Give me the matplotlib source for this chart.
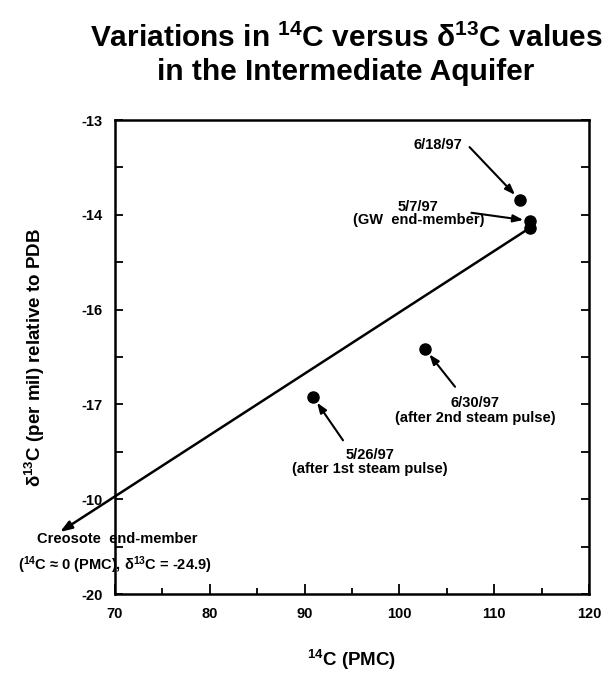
import numpy as np
import matplotlib
matplotlib.use("Agg")
import matplotlib.pyplot as plt
from matplotlib.ticker import FixedLocator, MultipleLocator

# ---------------- data ----------------
dates = ["6/18/97", "5/7/97", "5/7/97 (dup)", "6/30/97", "5/26/97"]
c14_pmc = [112.7, 113.8, 113.8, 102.7, 90.9]
d13c = [-14.18, -14.49, -14.59, -16.38, -17.09]

creosote_c14 = 0.0
creosote_d13c = -24.9

x_ticks = [70, 80, 90, 100, 110, 120]
y_tick_labels = ["-13", "-14", "-16", "-17", "-10", "-20"]

# ---------------- style ----------------
FONT = "Liberation Sans"
plt.rcParams["font.family"] = [FONT, "DejaVu Sans"]
plt.rcParams["font.weight"] = "bold"
plt.rcParams["mathtext.fontset"] = "custom"
plt.rcParams["mathtext.rm"] = "Liberation Sans:bold"
plt.rcParams["mathtext.it"] = "Liberation Sans:bold"
plt.rcParams["mathtext.bf"] = "Liberation Sans:bold"

W, H = 610, 675
fig = plt.figure(figsize=(W / 100, H / 100), dpi=100)
ax = fig.add_axes([115 / W, 1 - 594 / H, (589 - 115) / W, (594 - 120) / H])

ax.set_xlim(70, 120)
ax.set_ylim(-20, -13)

for s in ax.spines.values():
    s.set_linewidth(1.8)

ax.xaxis.set_major_locator(FixedLocator(x_ticks))
ax.xaxis.set_minor_locator(MultipleLocator(5))
yt = np.linspace(-13, -20, len(y_tick_labels))
ax.yaxis.set_major_locator(FixedLocator(yt))
ax.yaxis.set_minor_locator(FixedLocator((yt[:-1] + yt[1:]) / 2))
ax.set_yticklabels(y_tick_labels)
ax.set_xticklabels([str(v) for v in x_ticks])

ax.tick_params(axis="both", which="both", direction="in", width=1.3,
               labelsize=10.5, pad=9)
ax.tick_params(axis="y", which="both", right=True, length=6)
ax.tick_params(axis="x", which="major", length=7)
ax.tick_params(axis="x", which="minor", length=4)
for lab in ax.get_xticklabels() + ax.get_yticklabels():
    lab.set_fontweight("bold")

# mixing line from GW end-member toward creosote end-member (arrow)
gx, gy = c14_pmc[2], d13c[2]
arrow_end_x = 64.2
slope = (gy - creosote_d13c) / (gx - creosote_c14)
arrow_end_y = gy - slope * (gx - arrow_end_x)
ax.annotate("", xy=(arrow_end_x, arrow_end_y), xytext=(gx, gy),
            arrowprops=dict(arrowstyle="-|>,head_length=0.7,head_width=0.25",
                            color="black", lw=1.8, shrinkA=0, shrinkB=0),
            annotation_clip=False)

# points
ax.plot(c14_pmc, d13c, "o", color="black", markersize=8, zorder=5, clip_on=False)

txt_kw = dict(ha="center", va="center", fontsize=10.5, fontweight="bold")
arr_kw = dict(arrowstyle="-|>,head_length=0.6,head_width=0.22", color="black",
              lw=1.5, shrinkA=0, shrinkB=5)

# 6/18/97
ax.text(104.1, -13.37, "6/18/97", **txt_kw)
ax.annotate("", xy=(c14_pmc[0], d13c[0]), xytext=(107.4, -13.40), arrowprops=arr_kw)

# 5/7/97 GW end-member
ax.text(102.0, -14.38, "5/7/97\n(GW  end-member)", linespacing=0.95, **txt_kw)
ax.annotate("", xy=(c14_pmc[1], d13c[1]), xytext=(107.6, -14.37), arrowprops=arr_kw)

# 6/30/97
ax.text(107.97, -17.29, "6/30/97\n(after 2nd steam pulse)", linespacing=1.05, **txt_kw)
ax.annotate("", xy=(c14_pmc[3], d13c[3]), xytext=(105.87, -16.94), arrowprops=arr_kw)

# 5/26/97
ax.text(96.9, -18.05, "5/26/97\n(after 1st steam pulse)", linespacing=1.05, **txt_kw)
ax.annotate("", xy=(c14_pmc[4], d13c[4]), xytext=(94.05, -17.73), arrowprops=arr_kw)

# creosote label
ax.text(70.2, -19.19, "Creosote  end-member", clip_on=False, **txt_kw)
ax.text(70.0, -19.57, "($^{14}$C ≈ 0 (PMC), δ$^{13}$C = -24.9)", clip_on=False, **txt_kw)

# axis labels
fig.text(35 / W, 1 - 357 / H, "δ$^{13}$C (per mil) relative to PDB", rotation=90,
         ha="center", va="center", fontsize=13.5, fontweight="bold")
fig.text(352 / W, 1 - 660 / H, "$^{14}$C (PMC)", ha="center", va="center",
         fontsize=13.5, fontweight="bold")

# title
fig.text(346 / W, 1 - 38 / H, "Variations in $^{14}$C versus δ$^{13}$C values",
         ha="center", va="center", fontsize=21.5, fontweight="bold")
fig.text(346 / W, 1 - 72 / H, "in the Intermediate Aquifer",
         ha="center", va="center", fontsize=21.5, fontweight="bold")

fig.savefig("out.png", dpi=100)
